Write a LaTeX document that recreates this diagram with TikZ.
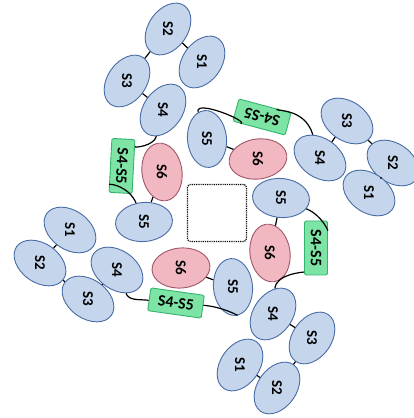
\documentclass[tikz,border=0pt]{standalone}
\usepackage{fontspec}
\setmainfont{Carlito}
\usetikzlibrary{shapes.geometric}
\definecolor{segfill}{RGB}{197,214,236}
\definecolor{segline}{RGB}{72,108,165}
\definecolor{porefill}{RGB}{242,184,194}
\definecolor{poreline}{RGB}{160,85,105}
\definecolor{linkfill}{RGB}{125,228,165}
\definecolor{linkline}{RGB}{50,180,110}
\tikzset{
	seg/.style={ellipse, draw=segline, fill=segfill, line width=0.9pt, minimum width=57pt, minimum height=39pt, inner sep=0pt},
	pore/.style={ellipse, draw=poreline, fill=porefill, line width=0.9pt, minimum width=58pt, minimum height=40pt, inner sep=0pt},
	lbl/.style={font=\fontsize{15}{15}\selectfont\bfseries, text=black},
	seglbl/.style={lbl, rotate=-90},
	linkbox/.style={draw=linkline, fill=linkfill, line width=0.9pt, rounded corners=1.5pt, minimum width=54pt, minimum height=23pt, inner sep=1pt, font=\fontsize{16}{16}\selectfont\bfseries},
	tether/.style={black, line width=1.2pt},
}

\begin{document}
\begin{tikzpicture}[x=1pt, y=1pt]
	\useasboundingbox (0,0) rectangle (414,418);

	% central pore
	\node[draw, densely dotted, line width=1.2pt, rounded corners=3pt, minimum width=59pt, minimum height=57pt] (pore) at (217,205) {};

	% subunit A (top left)
	\node[seg, rotate=55] (a2) at (168,389) {};
	\node[seg, rotate=55] (a1) at (202,356) {};
	\node[seg, rotate=55] (a3) at (127,337) {};
	\node[seg, rotate=55] (a4) at (163,308) {};
	\node[linkbox, rotate=-93] (al) at (122,252) {S4-S5};
	\node[seg, rotate=5] (a5) at (144,196) {};
	\node[pore, rotate=98] (a6) at (162,246) {};

	% subunit B (top right)
	\node[seg, rotate=-35] (b2) at (393,255) {};
	\node[seg, rotate=-35] (b1) at (369,225) {};
	\node[seg, rotate=-35] (b3) at (347,297) {};
	\node[seg, rotate=-35] (b4) at (320,260) {};
	\node[linkbox, rotate=165] (bl) at (262,301) {S4-S5};
	\node[seg, rotate=95] (b5) at (207,279) {};
	\node[pore, rotate=8] (b6) at (258,259) {};

	% subunit C (bottom right)
	\node[seg, rotate=55] (c2) at (277,30) {};
	\node[seg, rotate=55] (c1) at (240,53) {};
	\node[seg, rotate=55] (c3) at (312,80) {};
	\node[seg, rotate=55] (c4) at (273,104) {};
	\node[linkbox, rotate=-90] (cl) at (316,170) {S4-S5};
	\node[seg, rotate=-5] (c5) at (281,220) {};
	\node[pore, rotate=98] (c6) at (270,165) {};

	% subunit D (bottom left)
	\node[seg, rotate=-35] (d2) at (40,155) {};
	\node[seg, rotate=-35] (d1) at (70,188) {};
	\node[seg, rotate=-35] (d3) at (88,119) {};
	\node[seg, rotate=-35] (d4) at (117,148) {};
	\node[linkbox, rotate=-8] (dl) at (176,115) {S4-S5};
	\node[seg, rotate=95] (d5) at (233,131) {};
	\node[pore, rotate=5] (d6) at (181,150) {};

	% labels
	\foreach \u in {a,b,c,d} {
		\foreach \k in {1,...,6}
			\node[seglbl] at (\u\k) {S\k};
	}

	% tethers
	\foreach \u in {a,b,c,d} {
		\draw[tether] (\u1) -- (\u2);
		\draw[tether] (\u2) -- (\u3);
		\draw[tether] (\u3) -- (\u4);
		\draw[tether] (\u6) -- (\u5);
	}
	\draw[tether] (a4) to[out=225, in=90] (al);
	\draw[tether] (al) to[out=-90, in=110] (a5);
	\draw[tether] (b4) to[out=120, in=-15] (bl);
	\draw[tether] (bl) to[out=165, in=80] (b5);
	\draw[tether] (c4) to[out=60, in=-90] (cl);
	\draw[tether] (cl) to[out=90, in=-20] (c5);
	\draw[tether] (d4) to[out=-45, in=180] (dl);
	\draw[tether] (dl) to[out=0, in=225] (d5);
\end{tikzpicture}
\end{document}
